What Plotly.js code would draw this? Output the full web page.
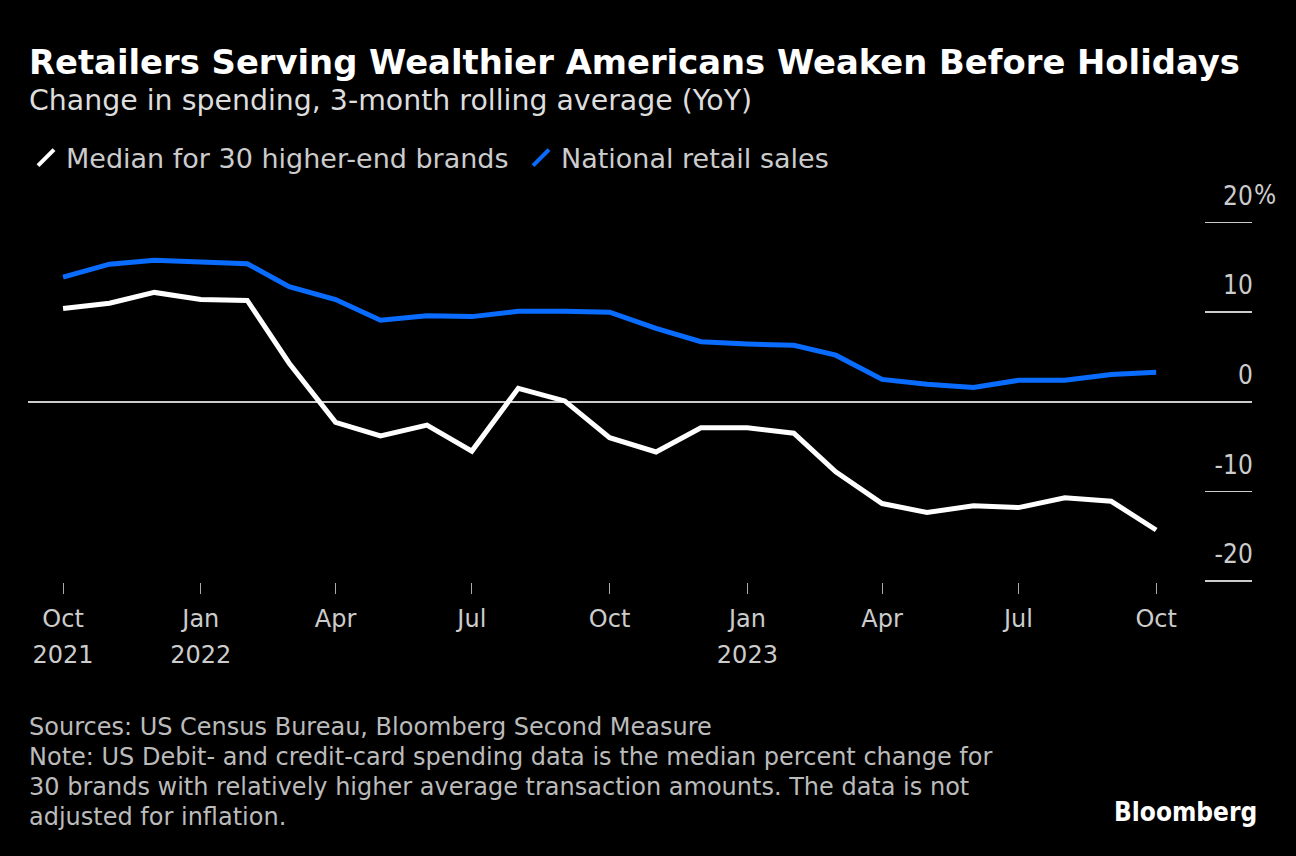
<!DOCTYPE html>
<html>
<head>
<meta charset="utf-8">
<script src="https://cdn.plot.ly/plotly-3.0.1.min.js"></script>
<style>
html,body{margin:0;padding:0;background:#000;}
#chart{width:1296px;height:856px;}
</style>
</head>
<body>
<div id="chart"></div>
<script>
const months = ['2021-10-01','2021-11-01','2021-12-01','2022-01-01','2022-02-01','2022-03-01','2022-04-01','2022-05-01','2022-06-01','2022-07-01','2022-08-01','2022-09-01','2022-10-01','2022-11-01','2022-12-01','2023-01-01','2023-02-01','2023-03-01','2023-04-01','2023-05-01','2023-06-01','2023-07-01','2023-08-01','2023-09-01','2023-10-01'];
const brandsMedian = [10.4,11.0,12.2,11.4,11.3,4.3,-2.3,-3.8,-2.6,-5.5,1.5,0.1,-4.0,-5.6,-2.9,-2.9,-3.5,-7.8,-11.35,-12.35,-11.6,-11.8,-10.7,-11.1,-14.3];
const nationalRetail = [13.9,15.35,15.8,15.6,15.4,12.85,11.4,9.1,9.6,9.5,10.1,10.1,10.0,8.2,6.7,6.45,6.3,5.2,2.5,1.95,1.6,2.4,2.4,3.05,3.3];
const seriesNames = ['Median for 30 higher-end brands','National retail sales'];
const monthTickVals = ['2021-10-01','2022-01-01','2022-04-01','2022-07-01','2022-10-01','2023-01-01','2023-04-01','2023-07-01','2023-10-01'];
const monthTickText = ['Oct','Jan','Apr','Jul','Oct','Jan','Apr','Jul','Oct'];
const yearTickVals = ['2021-10-01','2022-01-01','2023-01-01'];
const yearTickText = ['2021','2022','2023'];
const yTickVals = [-20,-10,0,10,20];
const yTickText = ['-20','-10','0','10','20'];
const footLines = [
  'Sources: US Census Bureau, Bloomberg Second Measure',
  'Note: US Debit- and credit-card spending data is the median percent change for',
  '30 brands with relatively higher average transaction amounts. The data is not',
  'adjusted for inflation.'
];

const WHITE = '#ffffff';
const BLUE = '#0a6cff';
const FONT = '"DejaVu Sans", sans-serif';
const FONTC = '"DejaVu Sans Condensed", "DejaVu Sans", sans-serif';

// plot area geometry (pixels)
const PT = 218.2, PB = 581.6, PL = 28, PR = 1252;
const PH = PB - PT, PW = PR - PL;
const py = Y => (PB - Y) / PH;
const px = X => (X - PL) / PW;
const xRange = ['2021-09-07 14:00','2023-12-04'];

const traces = [
  {x: months, y: nationalRetail, mode:'lines', line:{color:BLUE, width:5}, showlegend:false, hoverinfo:'skip'},
  {x: months, y: brandsMedian, xaxis:'x2', mode:'lines', line:{color:WHITE, width:5}, showlegend:false, hoverinfo:'skip'},
  {x:[null], y:[null], name: seriesNames[0], mode:'markers', marker:{symbol:'line-ne', size:22, color:WHITE, line:{color:WHITE, width:4}}},
  {x:[null], y:[null], name: seriesNames[1], mode:'markers', marker:{symbol:'line-ne', size:22, color:BLUE, line:{color:BLUE, width:4}}}
];

const annotations = [
  {text:'Change in spending, 3-month rolling average (YoY)', xref:'paper', yref:'paper', x:px(27), xanchor:'left', y:py(101), yanchor:'middle', showarrow:false, font:{family:FONT, size:28.4, color:'#dddddd'}},
  {text:'%', xref:'paper', yref:'paper', x:px(1252), xanchor:'left', y:py(195), yanchor:'middle', showarrow:false, font:{family:FONTC, size:26, color:'#cccccc'}},
  {text:'<b>Bloomberg</b>', xref:'paper', yref:'paper', x:px(1259), xanchor:'right', y:py(811), yanchor:'middle', showarrow:false, font:{family:FONTC, size:26, color:'#ffffff'}}
];
const footY = [726, 756, 786, 816];
footLines.forEach((t, i) => annotations.push({text:t, xref:'paper', yref:'paper', x:px(27), xanchor:'left', y:py(footY[i]), yanchor:'middle', showarrow:false, font:{family:FONT, size:24, color:'#bbbbbb'}}));

const layout = {
  width:1296, height:856,
  paper_bgcolor:'#000', plot_bgcolor:'#000',
  font:{family:FONT, color:'#cccccc', size:24},
  margin:{l:PL, r:1296-PR, t:PT, b:856-PB},
  title:{text:'<b>Retailers Serving Wealthier Americans Weaken Before Holidays</b>', x:29/1296, xanchor:'left', y:1-62/856, yanchor:'middle', font:{family:FONT, size:33.8, color:'#ffffff'}},
  showlegend:true,
  legend:{orientation:'h', xref:'container', yref:'container', x:26/1296, xanchor:'left', y:1-158/856, yanchor:'middle', font:{family:FONT, size:27, color:'#cccccc'}, bgcolor:'rgba(0,0,0,0)', itemwidth:30, entrywidth:450, tracegroupgap:0},
  xaxis:{type:'date', range:xRange, tickvals:monthTickVals, ticktext:monthTickText, ticks:'outside', ticklen:11, tickcolor:'#aaaaaa', tickwidth:1, ticklabelstandoff:4, showgrid:false, zeroline:false, showline:false, tickfont:{family:FONT, size:24, color:'#cccccc'}, fixedrange:true},
  xaxis2:{type:'date', range:xRange, overlaying:'x', anchor:'y', side:'bottom', tickvals:yearTickVals, ticktext:yearTickText, ticks:'', ticklabelstandoff:56, showgrid:false, zeroline:false, showline:false, tickfont:{family:FONT, size:24, color:'#cccccc'}, fixedrange:true},
  yaxis:{side:'left', anchor:'free', position:1, range:[-20.1,20.5], tickvals:yTickVals, ticktext:yTickText, ticks:'outside', ticklen:47, tickcolor:'#cccccc', tickwidth:1.5, ticklabelshift:-27, ticklabelstandoff:-53, showgrid:false, zeroline:true, zerolinecolor:'#cccccc', zerolinewidth:1.5, showline:false, tickfont:{family:FONTC, size:26, color:'#cccccc'}, fixedrange:true},
  annotations: annotations
};

Plotly.newPlot('chart', traces, layout, {staticPlot:true, displayModeBar:false});
</script>
</body>
</html>
